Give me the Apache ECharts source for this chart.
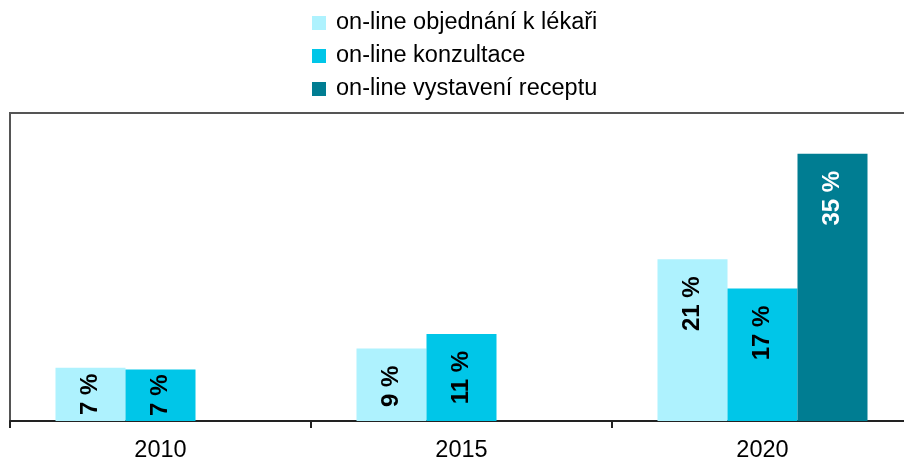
<!DOCTYPE html>
<html>
<head>
<meta charset="utf-8">
<script src="https://cdn.jsdelivr.net/npm/echarts@6/dist/echarts.min.js"></script>
<style>
  html, body { margin: 0; padding: 0; background: #fff; }
  #chart { width: 904px; height: 459px; }
</style>
</head>
<body>
<div id="chart"></div>
<script>
// data (percent)
var years = ['2010', '2015', '2020']
var seriesNames = ['on-line objednání k lékaři', 'on-line konzultace', 'on-line vystavení receptu']
var objednani = [6.9, 9.4, 21.0]
var konzultace = [6.7, 11.3, 17.2]
var recepty = [null, null, 34.7]

var colors = ['#AEF2FE', '#00C6E8', '#007D92']
var font = '"Liberation Sans", Arial, sans-serif'

function labelFor(color) {
  return {
    show: true,
    position: 'insideTop',
    distance: 17,
    rotate: 90,
    align: 'right',
    verticalAlign: 'middle',
    color: color,
    fontFamily: font,
    fontWeight: 'bold',
    fontSize: 24,
    formatter: function(p) {
      return Math.round(p.value) + ' %'
    }
  }
}

// short bars: the label no longer fits under the top, so it sits in the middle
function toItems(values) {
  return values.map(function(v) {
    if (v != null && v < 8) {
      return { value: v, label: { position: 'inside', align: 'center' } }
    }
    return v
  })
}

var chart = echarts.init(document.getElementById('chart'))
chart.setOption({
  animation: false,
  color: colors,
  legend: {
    orient: 'vertical',
    left: 307,
    top: 6,
    itemWidth: 14,
    itemHeight: 14,
    itemGap: 9,
    icon: 'rect',
    textStyle: {
      fontFamily: font,
      fontSize: 23.5,
      lineHeight: 23,
      color: '#000',
      padding: [0, 0, 0, 5]
    },
    data: seriesNames
  },
  grid: {
    left: 10,
    top: 113,
    bottom: 38,
    right: -9,
    outerBoundsMode: 'none',
    containLabel: false,
    show: true,
    borderColor: '#555',
    borderWidth: 2
  },
  xAxis: {
    type: 'category',
    data: years,
    axisLine: { lineStyle: { color: '#222', width: 2 } },
    axisTick: { show: true, length: 7, lineStyle: { color: '#222', width: 2 } },
    axisLabel: {
      fontFamily: font,
      fontSize: 23.5,
      color: '#000',
      margin: 18
    }
  },
  yAxis: {
    type: 'value',
    min: 0,
    max: 40,
    show: false,
    splitLine: { show: false }
  },
  series: [{
    name: seriesNames[0],
    type: 'bar',
    barWidth: 70,
    barGap: 0,
    data: toItems(objednani),
    label: labelFor('#000')
  }, {
    name: seriesNames[1],
    type: 'bar',
    barWidth: 70,
    barGap: 0,
    data: toItems(konzultace),
    label: labelFor('#000')
  }, {
    name: seriesNames[2],
    type: 'bar',
    barWidth: 70,
    barGap: 0,
    data: toItems(recepty),
    label: labelFor('#fff')
  }]
})
</script>
</body>
</html>
